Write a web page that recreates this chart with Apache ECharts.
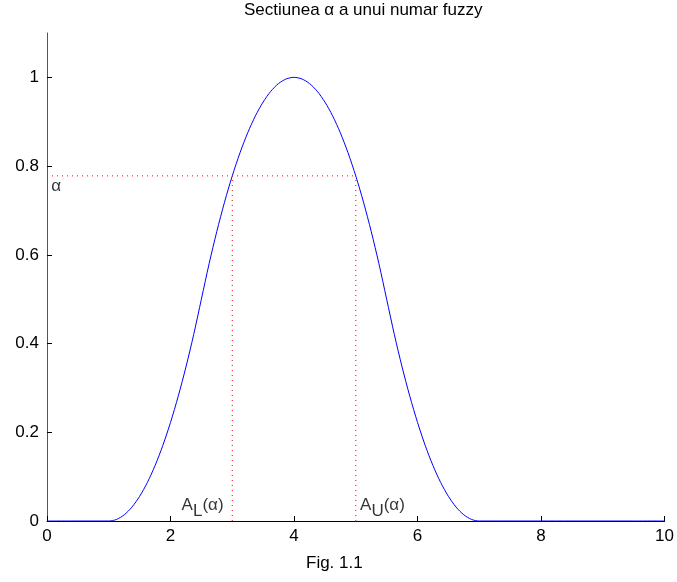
<!DOCTYPE html>
<html>
<head>
<meta charset="utf-8">
<script src="https://cdn.jsdelivr.net/npm/echarts@6/dist/echarts.min.js"></script>
<style>
  html, body { margin: 0; padding: 0; background: #fff; }
  #main { width: 677px; height: 582px; }
</style>
</head>
<body>
<div id="main"></div>
<script>
// curve points (pi-shaped membership function)
const curveX = [0, 0.5, 1, 1.125, 1.25, 1.375, 1.5, 1.625, 1.75, 1.875, 2, 2.125, 2.25, 2.375, 2.5,
  2.625, 2.75, 2.875, 3, 3.125, 3.25, 3.375, 3.5, 3.625, 3.75, 3.875, 4,
  4.125, 4.25, 4.375, 4.5, 4.625, 4.75, 4.875, 5, 5.125, 5.25, 5.375, 5.5,
  5.625, 5.75, 5.875, 6, 6.125, 6.25, 6.375, 6.5, 6.625, 6.75, 6.875, 7, 7.5, 8, 8.5, 9, 9.5, 10]
const curveY = [0, 0, 0, 0.0035, 0.0139, 0.0313, 0.0556, 0.0868, 0.125, 0.1701, 0.2222, 0.2813, 0.3472, 0.4201, 0.5,
  0.5799, 0.6528, 0.7188, 0.7778, 0.8299, 0.875, 0.9132, 0.9444, 0.9688, 0.9861, 0.9965, 1,
  0.9965, 0.9861, 0.9688, 0.9444, 0.9132, 0.875, 0.8299, 0.7778, 0.7188, 0.6528, 0.5799, 0.5,
  0.4201, 0.3472, 0.2813, 0.2222, 0.1701, 0.125, 0.0868, 0.0556, 0.0313, 0.0139, 0.0035, 0, 0, 0, 0, 0, 0, 0]
const alpha = 0.778
const aLower = 3
const aUpper = 5
const xTicks = [0, 2, 4, 6, 8, 10]
const yTicks = [0, 0.2, 0.4, 0.6, 0.8, 1]

const font = 'Liberation Sans, Arial, sans-serif'

const chart = echarts.init(document.getElementById('main'))
chart.setOption({
  animation: false,
  grid: { left: 47, right: 10, top: 33, bottom: 61 },
  graphic: [
    {
      type: 'text', left: 244, top: 2,
      style: { text: 'Sectiunea α a unui numar fuzzy', font: '17px ' + font, fill: '#000' }
    },
    {
      type: 'text', left: 306, top: 555,
      style: { text: 'Fig. 1.1', font: '17px ' + font, fill: '#000' }
    }
  ],
  xAxis: {
    type: 'value', min: 0, max: 10, interval: 2,
    splitLine: { show: false },
    axisLine: { lineStyle: { color: '#000', width: 1 } },
    axisTick: { inside: true, length: 5, lineStyle: { color: '#000' }, customValues: xTicks },
    axisLabel: { color: '#000', fontSize: 17, fontFamily: font, margin: 7, customValues: xTicks }
  },
  yAxis: {
    type: 'value', min: 0, max: 1.1,
    splitLine: { show: false },
    axisLine: { show: true, lineStyle: { color: '#555', width: 1 } },
    axisTick: { show: true, inside: true, length: 5, lineStyle: { color: '#000' }, customValues: yTicks },
    axisLabel: { color: '#000', fontSize: 17, fontFamily: font, margin: 8, customValues: yTicks }
  },
  series: [
    {
      type: 'line',
      data: curveX.map((x, i) => [x, curveY[i]]),
      smooth: 0.3,
      showSymbol: false,
      lineStyle: { color: '#0000ff', width: 1 },
      z: 3
    },
    {
      type: 'line',
      data: [[0, alpha], [aUpper, alpha]],
      showSymbol: false,
      lineStyle: { color: '#ff0000', width: 1, type: [1, 4] }
    },
    {
      type: 'line',
      data: [[aLower, 0], [aLower, alpha]],
      showSymbol: false,
      lineStyle: { color: '#ff0000', width: 1, type: [1, 4] }
    },
    {
      type: 'line',
      data: [[aUpper, 0], [aUpper, alpha]],
      showSymbol: false,
      lineStyle: { color: '#ff0000', width: 1, type: [1, 4] }
    },
    {
      type: 'scatter',
      symbolSize: 0,
      silent: true,
      data: [
        { value: [0.07, 0.755], label: { formatter: 'α' } },
        { value: [2.18, 0.036], label: { formatter: '{a|A}{s|L}{a|(α)}' } },
        { value: [5.07, 0.036], label: { formatter: '{a|A}{s|U}{a|(α)}' } }
      ],
      label: {
        show: true, position: 'right', distance: 0,
        color: '#000', fontSize: 17, fontFamily: font,
        rich: {
          a: { fontSize: 17, fontFamily: font, color: '#000' },
          s: { fontSize: 17, fontFamily: font, color: '#000', padding: [13, 0, 0, 0] }
        }
      }
    }
  ]
})
</script>
</body>
</html>
